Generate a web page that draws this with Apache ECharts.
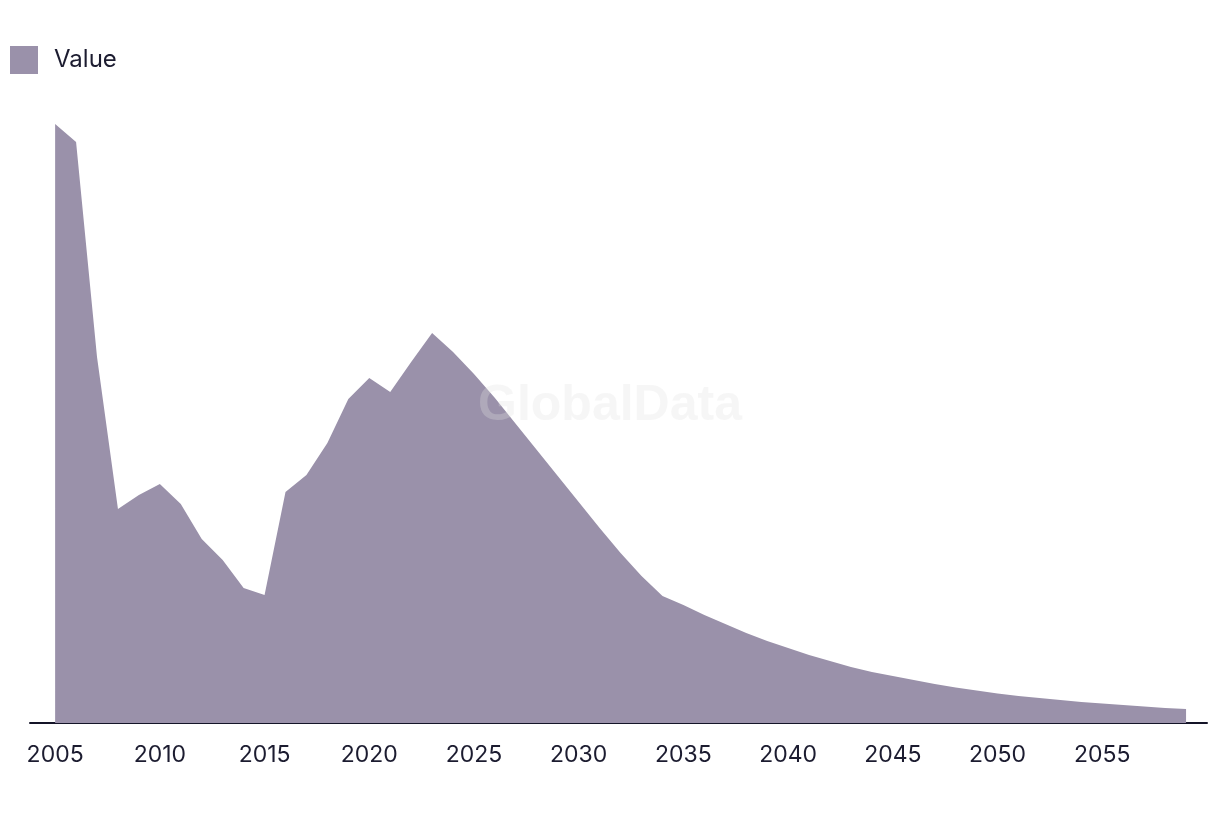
<!DOCTYPE html>
<html>
<head>
<meta charset="utf-8">
<script src="https://cdn.jsdelivr.net/npm/echarts@6/dist/echarts.min.js"></script>
<style>
html,body{margin:0;padding:0;background:#fff;}
#chart{width:1220px;height:814px;}
</style>
</head>
<body>
<div id="chart"></div>
<script>
const years = [2005,2006,2007,2008,2009,2010,2011,2012,2013,2014,2015,2016,2017,2018,2019,2020,2021,2022,2023,2024,2025,2026,2027,2028,2029,2030,2031,2032,2033,2034,2035,2036,2037,2038,2039,2040,2041,2042,2043,2044,2045,2046,2047,2048,2049,2050,2051,2052,2053,2054,2055,2056,2057,2058,2059];
const values = [599,581,366,214,228,239,219,184,163,135,128,231,248,280,324,345,331,361,390,371,349,325,299,273,247,221,195,170,147,127,118,108,99,90,82,75,68,62,56,51,47,43,39,35.5,32.5,29.5,27,25,23,21,19.5,18,16.5,15,14];
const tickYears = [2005,2010,2015,2020,2025,2030,2035,2040,2045,2050,2055];
const seriesName = 'Value';

const chart = echarts.init(document.getElementById('chart'));
chart.setOption({
  animation: false,
  backgroundColor: '#ffffff',
  legend: {
    left: 5, top: 41,
    icon: 'rect',
    itemWidth: 28, itemHeight: 28,
    textStyle: {fontFamily: 'Inter, Liberation Sans, Arial, sans-serif', fontSize: 24, color: '#1c1c30', padding: [0,0,0,11]},
    data: [seriesName]
  },
  grid: {left: 30, right: 13, top: 100, bottom: 91},
  xAxis: {
    type: 'value',
    min: 2003.8, max: 2060,
    axisLine: {show: true, lineStyle: {color: '#141428', width: 2}},
    axisTick: {show: false},
    splitLine: {show: false},
    axisLabel: {
      customValues: tickYears,
      formatter: v => String(v),
      fontFamily: 'Inter, Liberation Sans, Arial, sans-serif',
      fontSize: 23, color: '#1c1c30', margin: 21
    }
  },
  yAxis: {
    type: 'value', min: 0, max: 623,
    show: false, splitLine: {show: false}
  },
  graphic: [{
    type: 'text', left: 'center', top: 381, z: 100,
    style: {text: 'GlobalData', font: 'bold 50px Liberation Sans, Arial, sans-serif', fill: 'rgba(225,225,225,0.3)'}
  }],
  series: [{
    name: seriesName,
    type: 'line',
    data: years.map((y,i) => [y, values[i]]),
    symbol: 'none',
    lineStyle: {width: 0},
    itemStyle: {color: '#9a91aa'},
    areaStyle: {color: '#9a91aa', opacity: 1}
  }]
});
</script>
</body>
</html>
